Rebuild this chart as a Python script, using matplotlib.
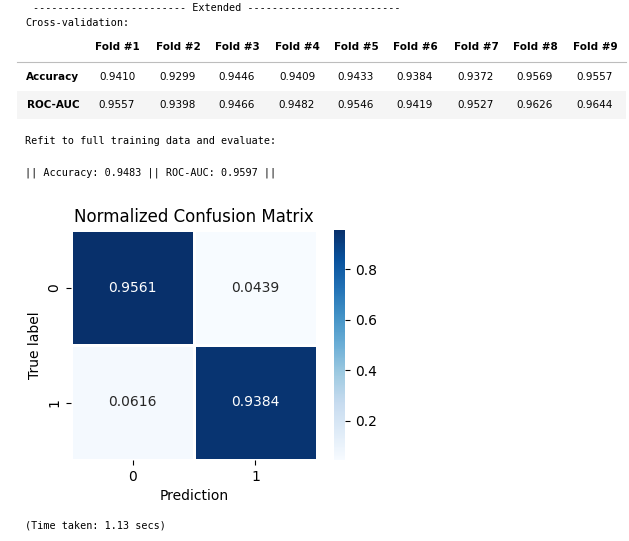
import matplotlib.pyplot as plt
import numpy as np

W, H = 629, 541

folds = [f"Fold #{i}" for i in range(1, 10)]
accuracy = [0.9410, 0.9299, 0.9446, 0.9409, 0.9433, 0.9384, 0.9372, 0.9569, 0.9557]
roc_auc = [0.9557, 0.9398, 0.9466, 0.9482, 0.9546, 0.9419, 0.9527, 0.9626, 0.9644]
cm = np.array([[0.9561, 0.0439], [0.0616, 0.9384]])
classes = ["0", "1"]

fig = plt.figure(figsize=(W / 100, H / 100), dpi=100)


def px(x, y):
    return x / W, 1 - y / H


def text(x, y, s, **kw):
    fig.text(*px(x, y), s, **kw)


mono = dict(family="DejaVu Sans Mono", fontsize=7.3, va="center")
text(33, 8, "-" * 25 + " Extended " + "-" * 25, **mono)
text(25, 23, "Cross-validation:", **mono)

# table
col_x = [117, 178, 237, 297, 356, 415, 476, 535, 595]
tab = dict(fontsize=7.5, va="center", ha="center")
bg = fig.add_axes([0, 0, 1, 1], zorder=-1)
bg.set_xlim(0, W)
bg.set_ylim(H, 0)
bg.axis("off")
bg.fill_between([17, 626], 91, 119, color="#f5f5f5", lw=0)
bg.plot([17, 626], [62, 62], color="#bdbdbd", lw=0.8)
for x, f in zip(col_x, folds):
    text(x, 47, f, weight="bold", **tab)
text(53, 77, "Accuracy", weight="bold", **tab)
text(53, 105, "ROC-AUC", weight="bold", **tab)
for x, a, r in zip(col_x, accuracy, roc_auc):
    text(x, 77, f"{a:.4f}", **tab)
    text(x, 105, f"{r:.4f}", **tab)

text(25, 141, "Refit to full training data and evaluate:", **mono)
text(25, 173, f"|| Accuracy: {0.9483:.4f} || ROC-AUC: {0.9597:.4f} ||", **mono)
text(25, 526, "(Time taken: 1.13 secs)", **mono)

# heatmap
l, t = px(71, 230)
r, b = px(317, 460)
ax = fig.add_axes([l, b, r - l, t - b])
im = ax.pcolormesh(cm, cmap="Blues", edgecolors="white", linewidth=2)
ax.set_xlim(0, 2)
ax.set_ylim(2, 0)
for i in range(2):
    for j in range(2):
        ax.text(j + 0.5, i + 0.5, f"{cm[i, j]:.4f}", ha="center", va="center",
                fontsize=10, color="white" if cm[i, j] > 0.5 else "#262626")
ax.set_xticks([0.5, 1.5], classes)
ax.set_yticks([0.5, 1.5], classes, rotation=90, va="center")
for s in ax.spines.values():
    s.set_visible(False)
ax.set_xlabel("Prediction", fontsize=10)
ax.set_ylabel("True label", fontsize=10)
ax.set_title("Normalized Confusion Matrix", fontsize=12)

cl, ct = px(334, 230)
cr, cb = px(345, 460)
cax = fig.add_axes([cl, cb, cr - cl, ct - cb])
cbar = fig.colorbar(im, cax=cax)
cbar.outline.set_visible(False)
cbar.set_ticks([0.2, 0.4, 0.6, 0.8])
cbar.ax.tick_params(labelsize=10)

fig.savefig("out.png", dpi=100)
